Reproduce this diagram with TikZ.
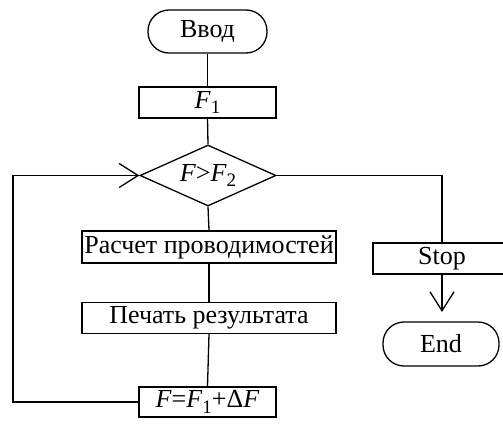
\documentclass[tikz,border=0pt]{standalone}
\usepackage{fontspec}
\setmainfont{Liberation Serif}
\usetikzlibrary{shapes.geometric,arrows.meta}
\newcommand\mysub[1]{\raisebox{-0.22em}{\fontsize{19}{19}\selectfont #1}}
\tikzset{
  base/.style={draw,line width=1.3pt,inner sep=0pt,font=\fontsize{26}{26}\selectfont},
  procbox/.style={base,rectangle},
  termbox/.style={base,rectangle,rounded corners=21pt},
  decbox/.style={base,diamond,minimum width=136pt,minimum height=61pt,aspect=2.23},
  conn/.style={line width=1.3pt},
  openarrow/.style={-{Straight Barb[length=19pt,width=24pt,line width=1.3pt]}}
}
\begin{document}
\begin{tikzpicture}[x=1pt,y=-1pt]
\useasboundingbox (0,0) rectangle (503,423);
\node[termbox,minimum width=119pt,minimum height=43pt] (vvod) at (207.5,31.5) {Ввод};
\node[procbox,minimum width=137pt,minimum height=31pt] (f1) at (207.5,102.5) {\textit{F}\mysub{1}};
\node[decbox] (dec) at (208,175.5) {\textit{F}>\textit{F}\mysub{2}};
\node[procbox,minimum width=254pt,minimum height=32pt] (calc) at (209,247) {Расчет проводимостей};
\node[procbox,minimum width=254pt,minimum height=31pt] (print) at (209,318) {Печать результата};
\node[procbox,minimum width=137pt,minimum height=30pt] (inc) at (207.5,402) {\textit{F}=\textit{F}\mysub{1}+Δ\textit{F}};
\node[procbox,minimum width=138pt,minimum height=31pt] (stop) at (442,258.5) {Stop};
\node[termbox,minimum width=116pt,minimum height=44pt] (end) at (441,344) {End};
\coordinate (arrend) at (442,312);
\coordinate (loopx) at (13,0);
\coordinate (rightx) at (442,0);

\draw[conn] (vvod.south) -- (f1.north);
\draw[conn] (f1.south) -- (dec.north);
\draw[conn] (dec.south) -- (calc.north);
\draw[conn] (calc.south) -- (print.north);
\draw[conn] (print.south) -- (inc.north);
\draw[conn,openarrow] (inc.west) -- (inc.west -| loopx) -- (dec.west -| loopx) -- (dec.west);
\draw[conn] (dec.east) -- (dec.east -| rightx) -- (stop.north);
\draw[conn,openarrow] (stop.south) -- (arrend);
\end{tikzpicture}
\end{document}
